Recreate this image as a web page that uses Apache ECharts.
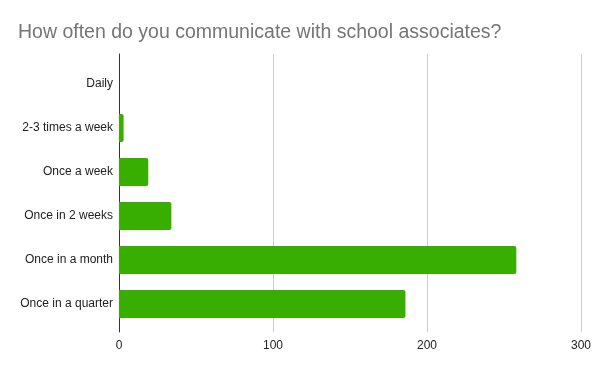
<!DOCTYPE html>
<html>
<head>
<meta charset="utf-8">
<script src="https://cdn.jsdelivr.net/npm/echarts@6/dist/echarts.min.js"></script>
<style>html,body{margin:0;padding:0;background:#fff;}#c{width:600px;height:371px;}</style>
</head>
<body>
<div id="c"></div>
<script>
const categories = ["Daily", "2-3 times a week", "Once a week", "Once in 2 weeks", "Once in a month", "Once in a quarter"];
const values = [0, 3, 19, 34, 258, 186];
const xTicks = [0, 100, 200, 300];

const chart = echarts.init(document.getElementById('c'), null, {renderer: 'canvas'});
chart.setOption({
  animation: false,
  backgroundColor: '#ffffff',
  title: {
    text: 'How often do you communicate with school associates?',
    left: 13, top: 18,
    textStyle: {fontFamily: 'Liberation Sans, Arial, sans-serif', fontSize: 19.5, fontWeight: 'normal', color: '#757575'}
  },
  grid: [
    {left: 119, right: 19, top: 62, height: 264, containLabel: false},
    {left: 119, right: 19, top: 54, height: 278, containLabel: false}
  ],
  xAxis: [
    {gridIndex: 0, type: 'value', min: 0, max: 300, interval: 100, show: false},
    {gridIndex: 1, type: 'value', min: xTicks[0], max: xTicks[xTicks.length - 1], interval: 100,
     axisLine: {show: false}, axisTick: {show: false},
     axisLabel: {color: '#222', fontFamily: 'Liberation Sans, Arial, sans-serif', fontSize: 12, margin: 8},
     splitLine: {show: true, lineStyle: {color: '#cccccc', width: 1}}}
  ],
  yAxis: [
    {gridIndex: 0, type: 'category', data: categories, inverse: true,
     axisLine: {show: false}, axisTick: {show: false},
     axisLabel: {color: '#222', fontFamily: 'Liberation Sans, Arial, sans-serif', fontSize: 12, margin: 6}},
    {gridIndex: 1, type: 'value', min: 0, max: 1,
     axisLine: {show: true, lineStyle: {color: '#333', width: 1}}, axisTick: {show: false},
     axisLabel: {show: false}, splitLine: {show: false}}
  ],
  series: [{
    type: 'bar', xAxisIndex: 0, yAxisIndex: 0, data: values,
    barCategoryGap: '36%',
    itemStyle: {color: '#38af00', borderRadius: [0, 2, 2, 0]},
    z: 1
  }]
});
</script>
</body>
</html>
